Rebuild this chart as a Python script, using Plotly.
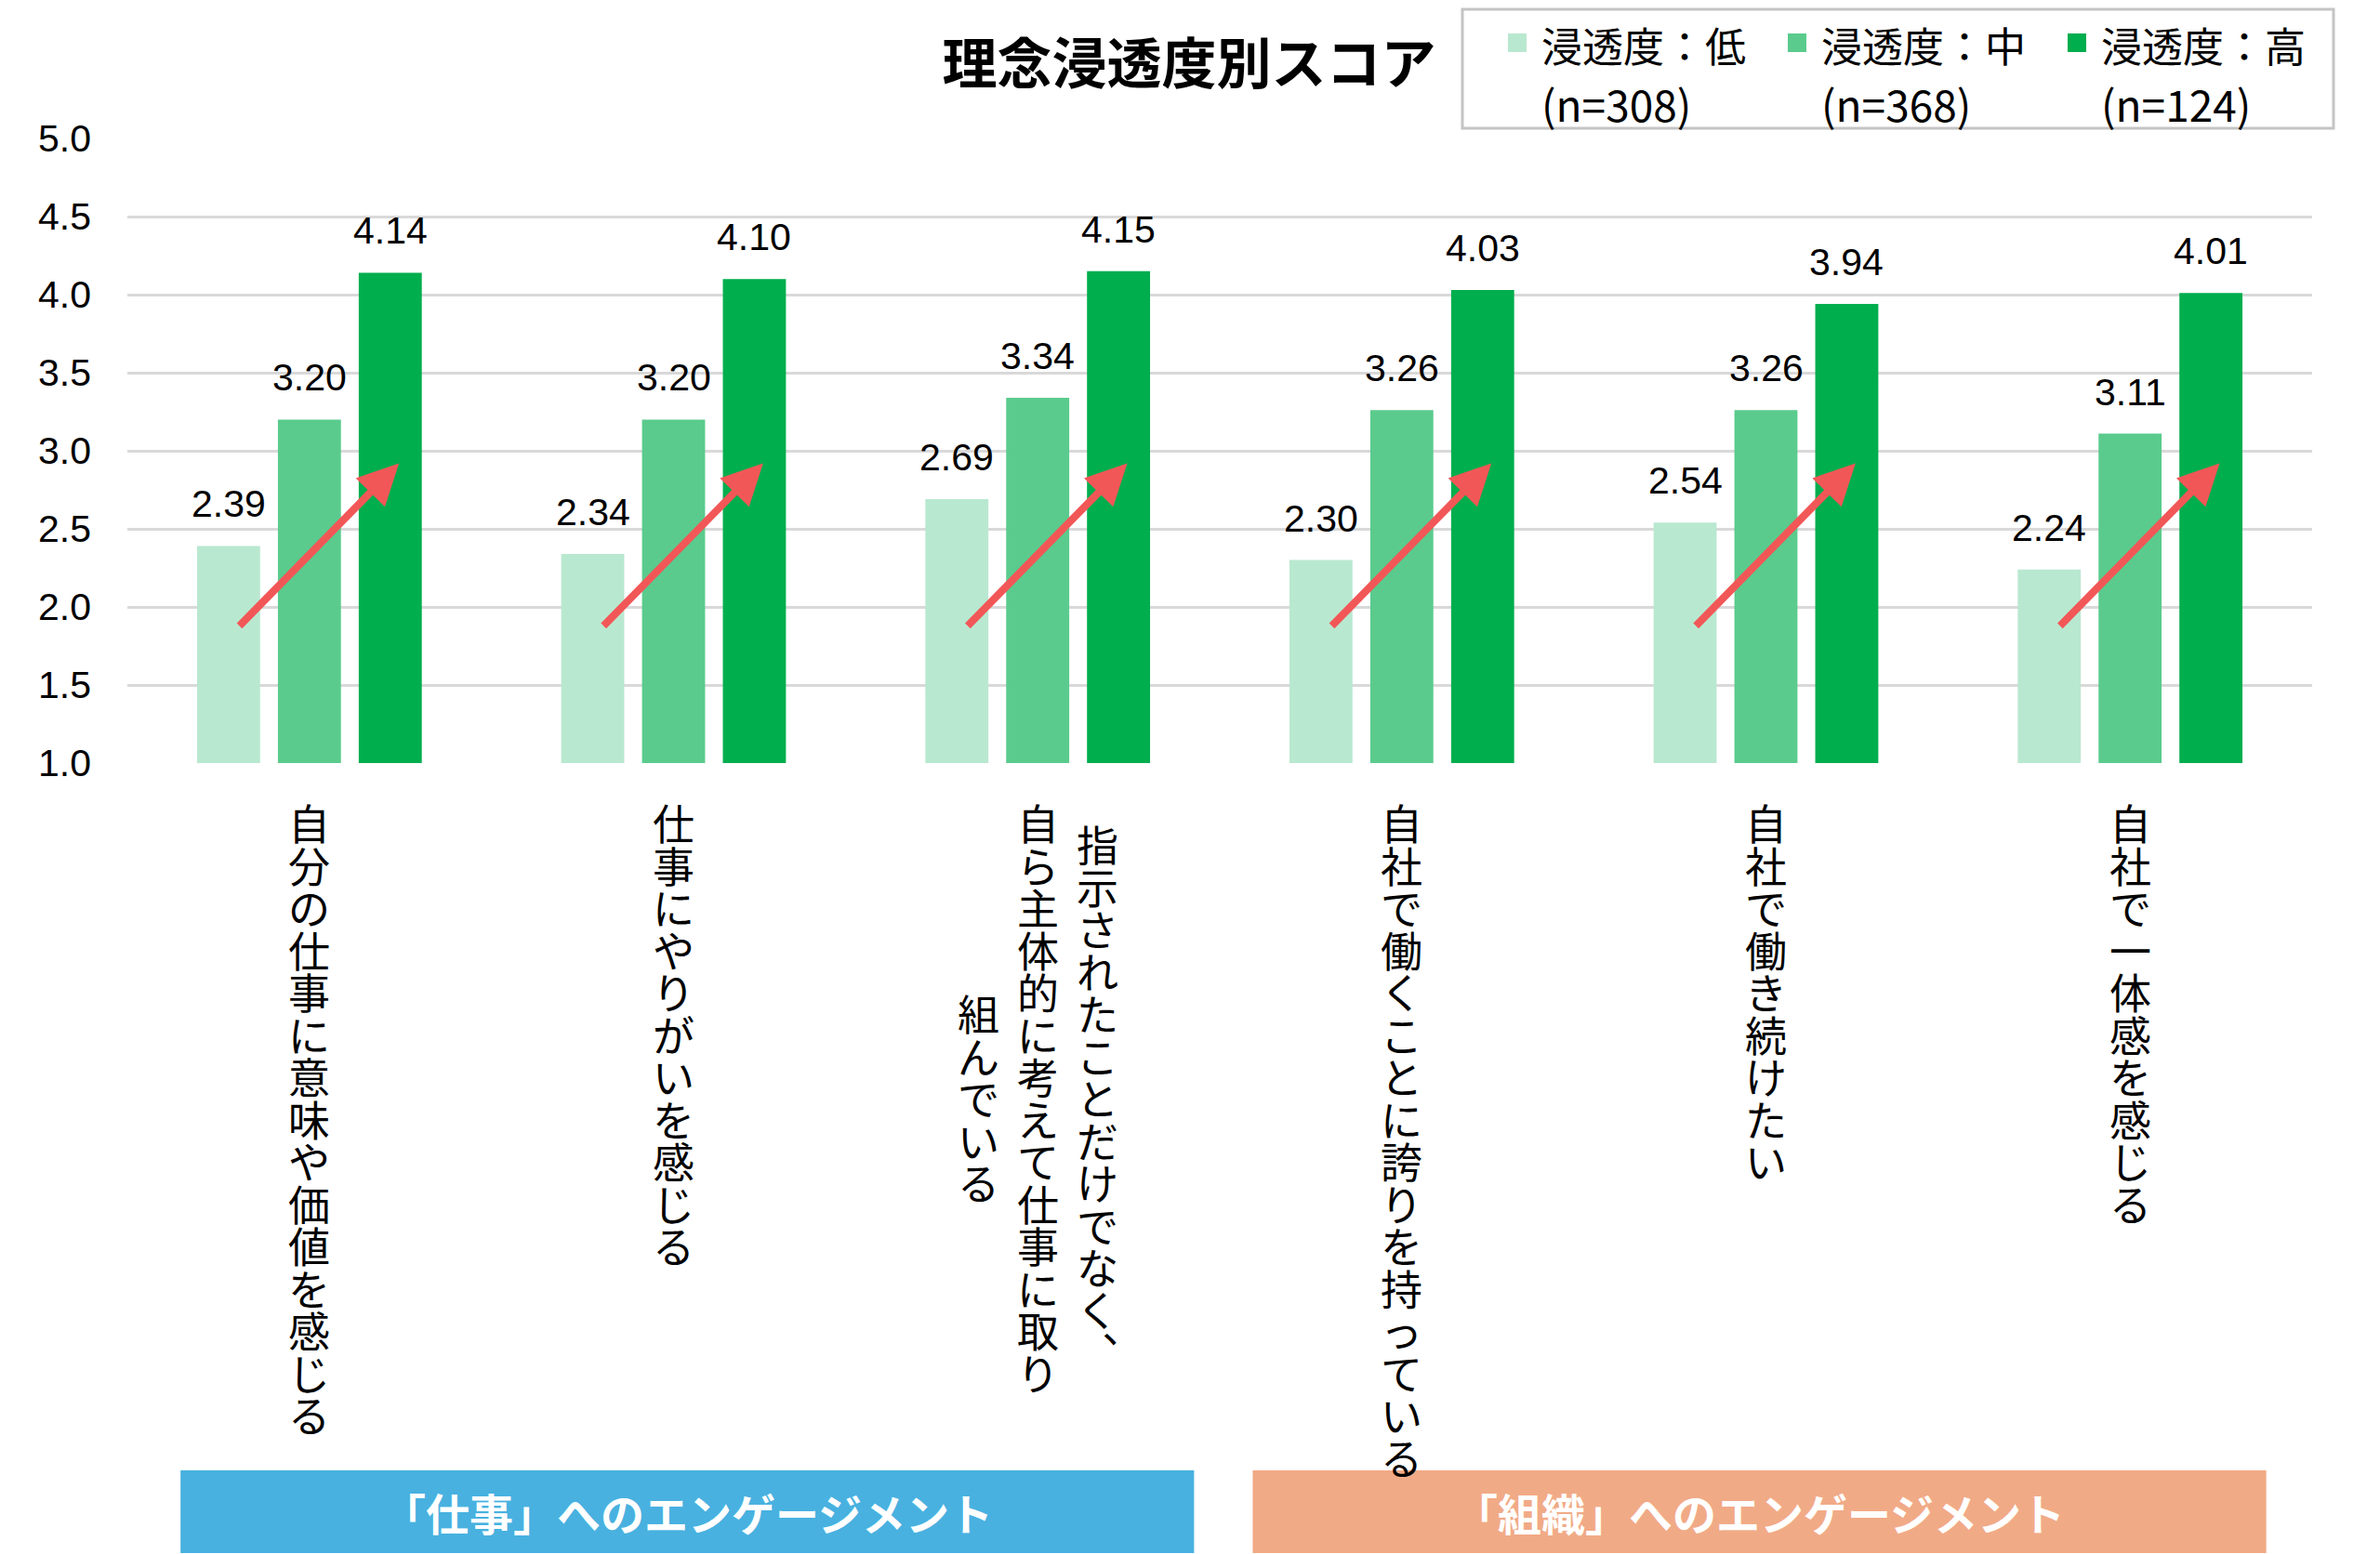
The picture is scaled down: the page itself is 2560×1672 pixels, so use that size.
import plotly.graph_objects as go

# data
categories = [
    "自分の仕事に意味や価値を感じる",
    "仕事にやりがいを感じる",
    "指示されたことだけでなく、自ら主体的に考えて仕事に取り組んでいる",
    "自社で働くことに誇りを持っている",
    "自社で働き続けたい",
    "自社で一体感を感じる",
]
# how each label is broken into vertical columns (right to left)
label_columns = [
    ["自分の仕事に意味や価値を感じる"],
    ["仕事にやりがいを感じる"],
    ["指示されたことだけでなく、", "自ら主体的に考えて仕事に取り", "組んでいる"],
    ["自社で働くことに誇りを持っている"],
    ["自社で働き続けたい"],
    ["自社で一体感を感じる"],
]
series_names = ["浸透度：低", "浸透度：中", "浸透度：高"]
sample_sizes = ["(n=308)", "(n=368)", "(n=124)"]
low = [2.39, 2.34, 2.69, 2.30, 2.54, 2.24]
mid = [3.20, 3.20, 3.34, 3.26, 3.26, 3.11]
high = [4.14, 4.10, 4.15, 4.03, 3.94, 4.01]
groups = ["「仕事」へのエンゲージメント", "「組織」へのエンゲージメント"]
y_ticks = [1.0, 1.5, 2.0, 2.5, 3.0, 3.5, 4.0, 4.5, 5.0]

colors = ["#B9E8D0", "#5ACB8D", "#00AE4E"]
group_colors = ["#48B1E0", "#F1AA86"]
arrow_color = "#F25757"
jp_font = "Noto Sans CJK JP"
num_font = "Liberation Sans"

# the page puts the figure 8px in from the top-left corner, so work in page px
OFF = 8
W, H = 2560 - OFF, 1672 - OFF
P_L, P_R, P_T, P_B = 137, 2487, 149, 821   # plot area in page px
plot_w, plot_h = P_R - P_L, P_B - P_T


def px_x(px):
    return (px - P_L) / plot_w


def px_y(py):
    return (P_B - py) / plot_h


slot = 0.222  # spacing of bars within a group (category units)

fig = go.Figure()
for name, vals, col in zip(series_names, [low, mid, high], colors):
    fig.add_trace(go.Bar(x=categories, y=vals, name=name, marker_color=col,
                         marker_line_width=0, hoverinfo="skip"))

annotations = []
shapes = []

# value labels above bars
for j, vals in enumerate([low, mid, high]):
    for i, v in enumerate(vals):
        annotations.append(dict(x=i + (j - 1) * slot, y=v, xref="x", yref="y",
                                text=f"{v:.2f}", showarrow=False, yanchor="bottom",
                                yshift=20, font=dict(family=num_font, size=41, color="#000")))

# red trend arrows from low to high bar
for i in range(len(categories)):
    annotations.append(dict(x=i + 0.246, y=2.92, ax=i - 0.196, ay=1.87,
                            xref="x", yref="y", axref="x", ayref="y", text="",
                            showarrow=True, arrowhead=2, arrowsize=1.1, arrowwidth=8,
                            arrowcolor=arrow_color, standoff=0))

# vertical (tategaki) category labels: one column = one stacked annotation
base_size = 35            # sets the line pitch (1.3 * size)
glyph = '<span style="font-size:45px">{}</span>'
pitch = 1.3 * base_size
label_top = 850
for i, cols in enumerate(label_columns):
    n = len(cols)
    longest = max(len(c) for c in cols)
    for j, col in enumerate(cols):
        start = label_top + (longest - len(col)) / 2 * pitch
        txt = "<br>".join(glyph.format(ch) for ch in col.replace("、", "︑"))
        annotations.append(dict(x=i, y=px_y(start), xref="x", yref="paper", text=txt,
                                showarrow=False, xshift=((n - 1) / 2 - j) * 64,
                                yanchor="top", align="center",
                                font=dict(family=jp_font, size=base_size, color="#000")))

# group boxes below the labels (two equal boxes with a small gap)
span_l, span_r, gap = -0.354, 5.374, 0.161
box_w = (span_r - span_l - gap) / 2
for k, (text, gc) in enumerate(zip(groups, group_colors)):
    x0 = span_l + k * (box_w + gap)
    x1 = x0 + box_w
    shapes.append(dict(type="rect", xref="x", yref="paper", x0=x0, x1=x1,
                       y0=px_y(1671), y1=px_y(1582), fillcolor=gc, line=dict(width=0)))
    annotations.append(dict(x=(x0 + x1) / 2, y=px_y(1626), xref="x", yref="paper",
                            text=f"<b>{text}</b>", showarrow=False, yanchor="middle",
                            font=dict(family=jp_font, size=47, color="white")))

# legend drawn by hand (bigger swatches, two-line entries)
shapes.append(dict(type="rect", xref="paper", yref="paper",
                   x0=px_x(1573), x1=px_x(2510), y0=px_y(138), y1=px_y(10),
                   fillcolor="white", line=dict(color="#C4C4C4", width=3)))
for k, (name, n_txt, col) in enumerate(zip(series_names, sample_sizes, colors)):
    sx = 1622 + 301 * k
    shapes.append(dict(type="rect", xref="paper", yref="paper",
                       x0=px_x(sx), x1=px_x(sx + 20), y0=px_y(56), y1=px_y(36),
                       fillcolor=col, line=dict(width=0)))
    annotations.append(dict(x=px_x(sx + 34), y=px_y(14), xref="paper", yref="paper",
                            text=f'<span style="font-size:44px">{name}</span><br>'
                                 f'<span style="font-size:46px">{n_txt}</span>',
                            showarrow=False, xanchor="left", yanchor="top", align="left",
                            font=dict(family=jp_font, size=49, color="#000")))

fig.update_layout(
    width=W, height=H,
    margin=dict(l=P_L - OFF, r=W - (P_R - OFF), t=P_T - OFF, b=H - (P_B - OFF), pad=0),
    paper_bgcolor="white", plot_bgcolor="white",
    barmode="group", bargap=0.334, bargroupgap=0.22,
    showlegend=False,
    title=dict(text="<b>理念浸透度別スコア</b>", x=px_x(1279), xref="paper",
               xanchor="center", y=1 - (69 - OFF) / H, yanchor="middle",
               font=dict(family=jp_font, size=59, color="#000")),
    xaxis=dict(range=[-0.5, len(categories) - 0.5], showticklabels=False,
               showgrid=False, ticks="", showline=False, zeroline=False),
    yaxis=dict(range=[1, 5], tickvals=y_ticks, tickformat=".1f",
               showgrid=True, gridcolor="#D9D9D9", gridwidth=3, zeroline=False,
               showline=False, ticks="", ticklabelstandoff=38,
               tickfont=dict(family=num_font, size=41, color="#000")),
    annotations=annotations,
    shapes=shapes,
)

fig.write_html("out.html")
